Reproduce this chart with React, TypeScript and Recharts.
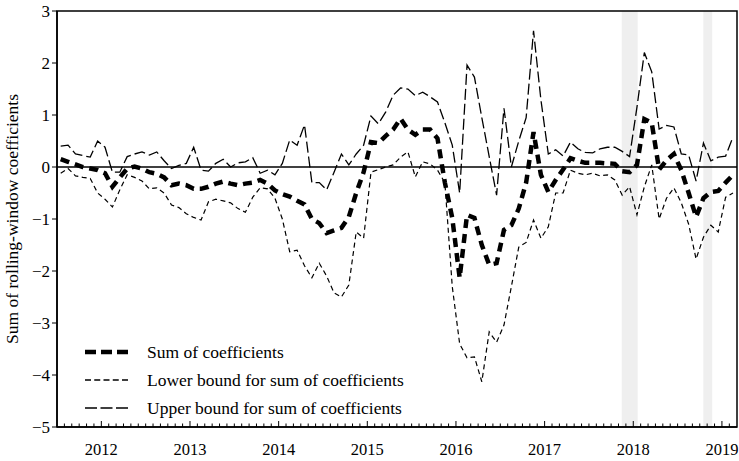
import {
  LineChart,
  Line,
  XAxis,
  YAxis,
  ReferenceArea,
  ReferenceLine,
  Legend,
} from "recharts";

const FONT = "'Liberation Serif', 'Times New Roman', serif";

// drop the default body margin so the figure fills the 739x461 page exactly
if (typeof document !== "undefined") {
  document.body.style.margin = "0";
  document.body.style.overflow = "hidden";
}

// monthly observations, first one is July 2011
const START_YEAR = 2011;
const START_MONTH = 7;

const sumCoef = [
  0.15, 0.1, 0.05, 0.0, -0.03, -0.06, -0.12, -0.38, -0.2, -0.03,
  0.01, -0.03, -0.1, -0.13, -0.2, -0.35, -0.32, -0.35, -0.42, -0.42,
  -0.38, -0.32, -0.28, -0.32, -0.35, -0.32, -0.3, -0.25, -0.32, -0.45,
  -0.52, -0.57, -0.65, -0.72, -1.0, -1.08, -1.27, -1.22, -1.17, -0.96,
  -0.5, -0.1, 0.48, 0.46, 0.6, 0.72, 0.93, 0.72, 0.62, 0.72,
  0.72, 0.55, -0.3, -0.98, -2.13, -0.92, -0.98, -1.5, -1.88, -1.85,
  -1.21, -1.12, -0.8, -0.3, 0.67, -0.15, -0.48, -0.25, -0.05, 0.17,
  0.12, 0.08, 0.08, 0.08, 0.07, 0.06, -0.08, -0.1, 0.04, 0.92,
  0.85, -0.05, 0.13, 0.25, -0.06, -0.5, -0.96, -0.6, -0.48, -0.46,
  -0.3, -0.15,
];

const lowerBound = [
  -0.12, -0.03, -0.17, -0.2, -0.22, -0.5, -0.62, -0.77, -0.44, -0.15,
  -0.2, -0.27, -0.42, -0.4, -0.5, -0.73, -0.78, -0.9, -0.97, -1.02,
  -0.67, -0.62, -0.65, -0.69, -0.8, -0.87, -0.58, -0.4, -0.42, -0.6,
  -1.0, -1.63, -1.6, -1.9, -2.13, -1.85, -2.1, -2.42, -2.5, -2.27,
  -1.25, -1.37, -0.1, -0.05, 0.0, 0.04, 0.19, 0.29, -0.19, 0.1,
  0.06, -0.06, -0.3, -2.3, -3.4, -3.67, -3.65, -4.13, -3.17, -3.37,
  -3.04, -2.3, -1.54, -1.45, -1.02, -1.37, -1.15, -0.5, -0.5, -0.06,
  -0.12, -0.15, -0.12, -0.17, -0.15, -0.25, -0.54, -0.38, -0.92, -0.38,
  0.04, -1.0, -0.6, -0.4, -0.69, -1.1, -1.77, -1.35, -1.12, -1.25,
  -0.58, -0.5,
];

const upperBound = [
  0.4, 0.42, 0.25, 0.22, 0.19, 0.5, 0.38, -0.1, -0.1, 0.2,
  0.25, 0.29, 0.23, 0.29, 0.12, -0.03, 0.03, 0.07, 0.38, -0.06,
  -0.08, 0.07, 0.15, 0.0, 0.08, 0.1, 0.18, -0.12, -0.06, -0.15,
  0.07, 0.52, 0.42, 0.81, -0.3, -0.3, -0.44, -0.1, 0.25, 0.04,
  0.25, 0.42, 0.98, 0.83, 1.06, 1.38, 1.52, 1.5, 1.37, 1.44,
  1.35, 1.25, 0.85, 0.42, -0.5, 1.96, 1.73, 0.95, 0.2, -0.54,
  1.13, 0.0, 0.5, 0.95, 2.62, 1.29, 0.25, 0.33, 0.21, 0.48,
  0.35, 0.28, 0.27, 0.35, 0.38, 0.38, 0.3, 0.2, 1.15, 2.2,
  1.83, 0.73, 0.8, 0.77, 0.25, 0.23, -0.27, 0.46, 0.12, 0.19,
  0.21, 0.58,
];

const yTicks = [-5, -4, -3, -2, -1, 0, 1, 2, 3];
const X_DOMAIN: [number, number] = [2011.5, 2019.17];

// grey shaded periods (decimal years)
const shaded = [
  [2017.87, 2018.05],
  [2018.79, 2018.89],
];

const data = sumCoef.map((s, i) => ({
  t: START_YEAR + (START_MONTH - 1 + i + 0.5) / 12,
  sum: s,
  lower: lowerBound[i],
  upper: upperBound[i],
}));

// a tick at every month start inside the domain
const monthTicks: number[] = [];
for (let k = START_MONTH; START_YEAR + k / 12 < X_DOMAIN[1] - 0.005; k++) {
  monthTicks.push(START_YEAR + k / 12);
}

const isYear = (v: number) => Math.abs(v - Math.round(v)) < 1e-6;

const MonthTick = (props: any) => {
  const { x, y, payload } = props;
  const year = isYear(payload.value);
  return (
    <g>
      <line x1={x} x2={x} y1={y} y2={y - (year ? 6 : 3.5)} stroke="#000" strokeWidth={1} />
      {year && (
        <text x={x} y={y + 28} textAnchor="middle" fontSize={16.5} fontFamily={FONT} fill="#000">
          {Math.round(payload.value)}
        </text>
      )}
    </g>
  );
};

// legend order and sample strokes, as in the original figure
const LEGEND_ORDER = ["sum", "lower", "upper"];
const LEGEND_LINES: Record<string, { w: number; dash: string }> = {
  sum: { w: 4.5, dash: "11 5" },
  lower: { w: 1.3, dash: "6 3.25" },
  upper: { w: 1.3, dash: "12 3.5" },
};

const renderLegend = (props: any) => {
  const items = [...(props.payload || [])].sort(
    (a: any, b: any) => LEGEND_ORDER.indexOf(a.dataKey) - LEGEND_ORDER.indexOf(b.dataKey)
  );
  return (
    <div>
      {items.map((entry: any) => {
        const st = LEGEND_LINES[entry.dataKey];
        return (
          <div key={entry.dataKey} style={{ display: "flex", alignItems: "center", height: 28 }}>
            <svg width={44} height={10}>
              <line x1={0} x2={44} y1={5} y2={5} stroke="#000" strokeWidth={st.w} strokeDasharray={st.dash} />
            </svg>
            <span style={{ marginLeft: 18, fontSize: 17.5, fontFamily: FONT, color: "#000", whiteSpace: "nowrap" }}>
              {entry.value}
            </span>
          </div>
        );
      })}
    </div>
  );
};

export default function App() {
  return (
    <LineChart width={739} height={461} data={data} margin={{ top: 11, right: 2, left: 8, bottom: 0 }}>
      {shaded.map(([a, b]) => (
        <ReferenceArea key={a} x1={a} x2={b} y1={-5} y2={3} fill="#efefef" fillOpacity={1} stroke="none" />
      ))}
      <XAxis
        dataKey="t"
        type="number"
        domain={X_DOMAIN}
        allowDataOverflow
        ticks={monthTicks}
        interval={0}
        tick={<MonthTick />}
        tickLine={false}
        tickSize={0}
        tickMargin={0}
        height={34}
        axisLine={{ stroke: "#000", strokeWidth: 1.5 }}
      />
      <YAxis
        type="number"
        domain={[-5, 3]}
        ticks={yTicks}
        width={49}
        tickSize={5}
        tickFormatter={(v: number) => String(v).replace("-", "\u2212")}
        tick={{ fill: "#000", fontSize: 17, fontFamily: FONT }}
        tickLine={{ stroke: "#000" }}
        axisLine={{ stroke: "#000", strokeWidth: 1.5 }}
        label={{
          value: "Sum of rolling-window coefficients",
          angle: -90,
          position: "insideLeft",
          offset: 4,
          style: { textAnchor: "middle", fontSize: 17.5, fontFamily: FONT, fill: "#000" },
        }}
      />
      <ReferenceLine y={0} stroke="#000" strokeWidth={1.5} />
      <Line
        dataKey="sum"
        name="Sum of coefficients"
        type="linear"
        stroke="#000"
        strokeWidth={4.5}
        strokeDasharray="9 6"
        dot={false}
        isAnimationActive={false}
      />
      <Line
        dataKey="lower"
        name="Lower bound for sum of coefficients"
        type="linear"
        stroke="#000"
        strokeWidth={1.2}
        strokeDasharray="5 3.5"
        dot={false}
        isAnimationActive={false}
      />
      <Line
        dataKey="upper"
        name="Upper bound for sum of coefficients"
        type="linear"
        stroke="#000"
        strokeWidth={1.3}
        strokeDasharray="11 4"
        dot={false}
        isAnimationActive={false}
      />
      <ReferenceArea x1={X_DOMAIN[0]} x2={X_DOMAIN[1]} y1={-5} y2={3} fill="none" stroke="#000" strokeWidth={1.5} />
      <Legend
        layout="vertical"
        align="center"
        verticalAlign="middle"
        content={renderLegend}
        wrapperStyle={{ left: 85, top: 338, width: "auto", height: "auto" }}
      />
    </LineChart>
  );
}
